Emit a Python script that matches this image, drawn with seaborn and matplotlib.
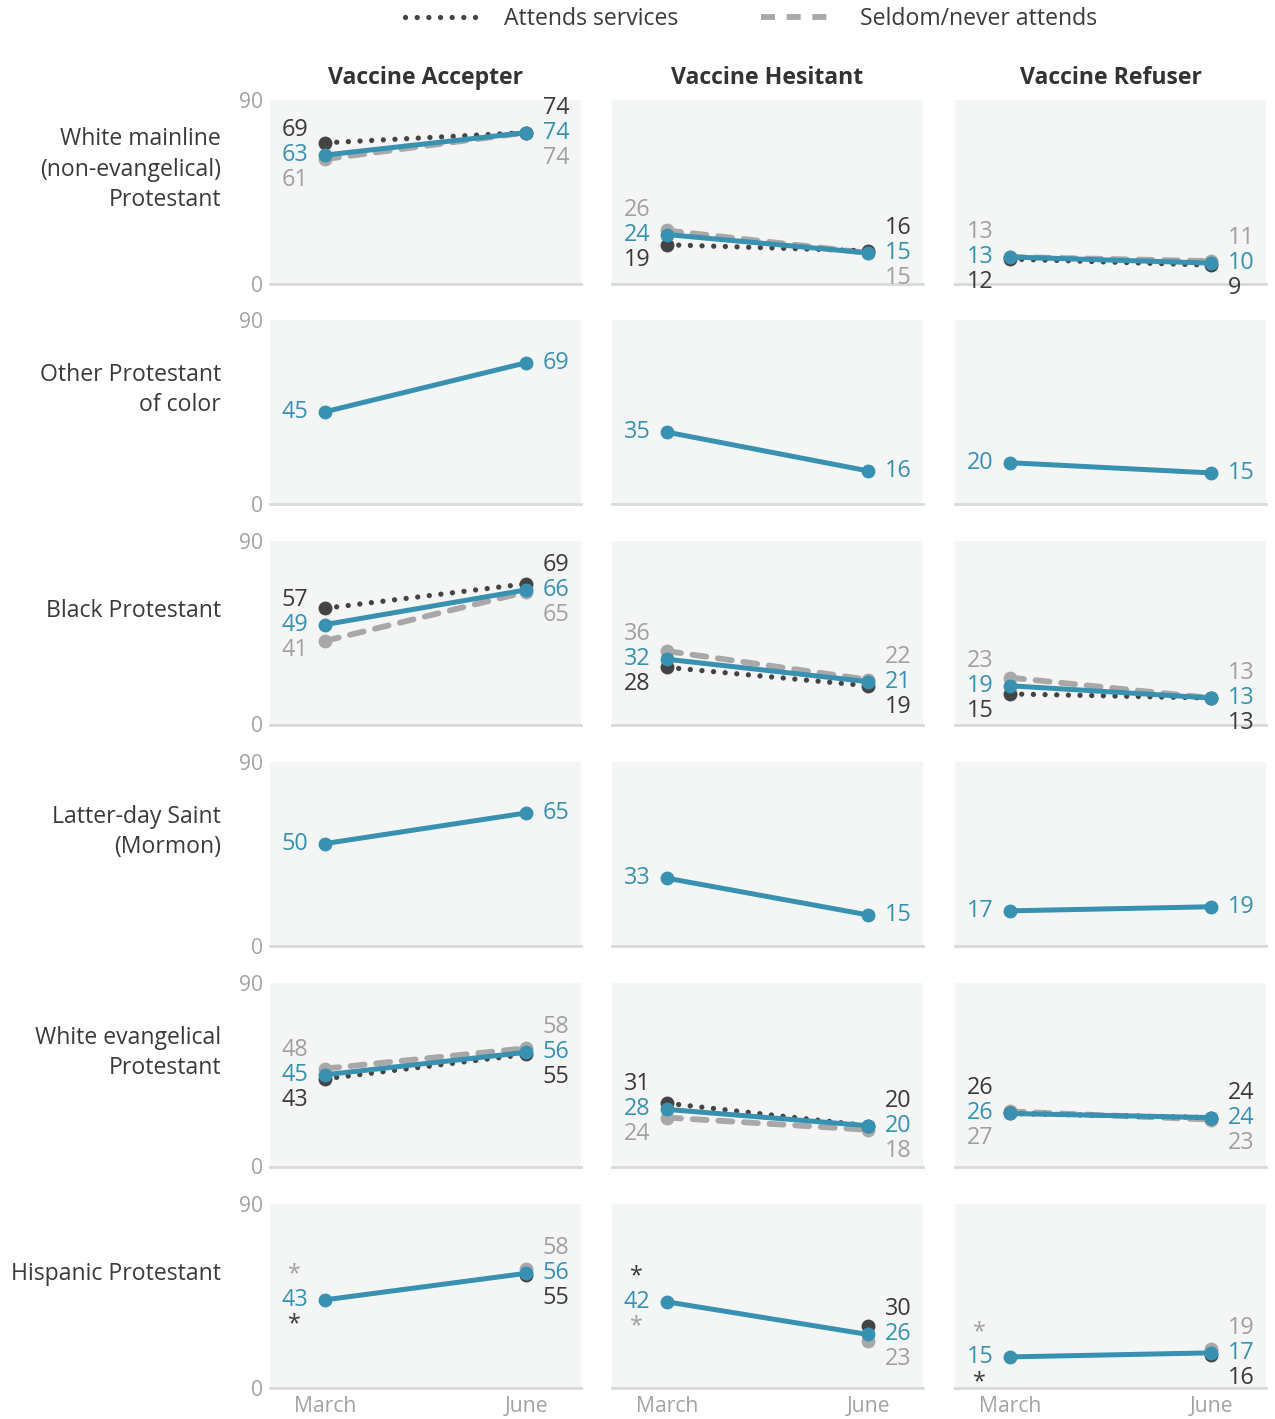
import numpy as np
import pandas as pd
import matplotlib
matplotlib.use("Agg")
import matplotlib.pyplot as plt
import seaborn as sns
from matplotlib.lines import Line2D

# ---------------- data ----------------
groups = ["White mainline\n(non-evangelical)\nProtestant",
          "Other Protestant\nof color",
          "Black Protestant",
          "Latter-day Saint\n(Mormon)",
          "White evangelical\nProtestant",
          "Hispanic Protestant"]
columns = ["Vaccine Accepter", "Vaccine Hesitant", "Vaccine Refuser"]
months = ["March", "June"]

# all members (blue)
all_march = [[63, 24, 13], [45, 35, 20], [49, 32, 19], [50, 33, 17], [45, 28, 26], [43, 42, 15]]
all_june = [[74, 15, 10], [69, 16, 15], [66, 21, 13], [65, 15, 19], [56, 20, 24], [56, 26, 17]]
# attends services (dark); None = not shown, "*" = too few cases
attend_march = [[69, 19, 12], [None, None, None], [57, 28, 15], [None, None, None], [43, 31, 26], ["*", "*", "*"]]
attend_june = [[74, 16, 9], [None, None, None], [69, 19, 13], [None, None, None], [55, 20, 24], [55, 30, 16]]
# seldom/never attends (grey)
seldom_march = [[61, 26, 13], [None, None, None], [41, 36, 23], [None, None, None], [48, 24, 27], ["*", "*", "*"]]
seldom_june = [[74, 15, 11], [None, None, None], [65, 22, 13], [None, None, None], [58, 18, 23], [58, 23, 19]]

# label stacking: True -> "attends" label above the blue label
attend_label_top_march = [[True, False, False], [True] * 3, [True, False, False], [True] * 3,
                          [False, True, True], [False, True, False]]
attend_label_top_june = [[True, True, False], [True] * 3, [True, False, False], [True] * 3,
                         [False, True, True], [False, True, False]]

# ---------------- style ----------------
sns.set_style("white")
plt.rcParams["font.family"] = ["Open Sans", "DejaVu Sans"]

BLUE = "#3891b0"
DARK = "#444444"
GREY = "#a8a8a8"
DARK_TXT = "#3a3a3a"
GREY_TXT = "#a0a0a0"
BG = "#f4f6f5"
AXIS = "#d9d9d9"
TICK = "#a3a3a3"

W, H = 1275, 1419
fig = plt.figure(figsize=(W / 100, H / 100), dpi=100)

col_left = [270, 612, 955]
pw = 311
row_top = [100, 320, 541, 762, 983, 1204]
ph = 183.5
XL = (-0.274, 1.274)

DOT = (0, (0.01, 2.2))
DASH = (0, (2.4, 2.0))
VAL_FS = 16.8
LAB_FS = 16.6


def num(v):
    return np.nan if (v is None or v == "*") else float(v)


def draw(ax, ys, color, ls, lw, z):
    df = pd.DataFrame({"x": [0, 1], "y": [num(v) for v in ys]}).dropna()
    if df.empty:
        return
    sns.lineplot(data=df, x="x", y="y", ax=ax, color=color, linewidth=lw,
                 linestyle=ls, marker="o", markersize=10, markeredgewidth=0,
                 sort=False, errorbar=None, legend=False, zorder=z,
                 dash_capstyle="round", solid_capstyle="round")


def label(ax, xi, anchor, val, color, dy):
    if val is None:
        return
    if val == "*":
        dx = -22 if xi == 0 else 22
        ax.annotate("*", (xi, anchor), xytext=(dx, dy), textcoords="offset points",
                    ha="center", va="center", color=color, fontsize=VAL_FS)
        return
    dx = -12 if xi == 0 else 12
    ax.annotate(f"{val}", (xi, anchor), xytext=(dx, dy), textcoords="offset points",
                ha="right" if xi == 0 else "left", va="center", color=color,
                fontsize=VAL_FS)


for r in range(len(groups)):
    for c in range(len(columns)):
        ax = fig.add_axes([col_left[c] / W, 1 - (row_top[r] + ph) / H, pw / W, ph / H])
        ax.set_facecolor(BG)

        draw(ax, [seldom_march[r][c], seldom_june[r][c]], GREY, DASH, 4.2, 2)
        draw(ax, [attend_march[r][c], attend_june[r][c]], DARK, DOT, 3.8, 3)
        draw(ax, [all_march[r][c], all_june[r][c]], BLUE, "-", 3.6, 4)

        for xi, (b, a, s, top) in enumerate([
                (all_march[r][c], attend_march[r][c], seldom_march[r][c], attend_label_top_march[r][c]),
                (all_june[r][c], attend_june[r][c], seldom_june[r][c], attend_label_top_june[r][c])]):
            label(ax, xi, b, b, BLUE, 0)
            label(ax, xi, b, a, DARK_TXT, 18 if top else -18)
            label(ax, xi, b, s, GREY_TXT, -18 if top else 18)

        ax.set_xlim(*XL)
        ax.set_ylim(0, 90)
        ax.set_xlabel("")
        ax.set_ylabel("")
        for sp in ["top", "left", "right"]:
            ax.spines[sp].set_visible(False)
        ax.spines["bottom"].set_color(AXIS)
        ax.spines["bottom"].set_linewidth(2)
        ax.tick_params(length=0, labelsize=15.2, labelcolor=TICK)
        ax.set_xticks([0, 1])
        if r == len(groups) - 1:
            ax.set_xticklabels(months)
            ax.tick_params(axis="x", pad=6)
        else:
            ax.set_xticklabels([])
        ax.set_yticks([0, 90])
        if c == 0:
            ax.set_yticklabels(["0", "90"])
            ax.tick_params(axis="y", pad=5)
        else:
            ax.set_yticklabels([])
        ax.grid(False)

        if r == 0:
            ax.annotate(columns[c], (0.5, 1.0), xycoords="axes fraction",
                        xytext=(0, 16), textcoords="offset points",
                        ha="center", va="center", fontsize=16.6,
                        fontweight="bold", color="#333333")
        if c == 0:
            yc = 1 - (row_top[r] + ph / 2 - 22) / H
            fig.text(221 / W, yc, groups[r], ha="right", va="center",
                     multialignment="right", fontsize=LAB_FS, color=DARK_TXT,
                     linespacing=1.36)

handles = [Line2D([], [], color=DARK, lw=3.8, linestyle=DOT, dash_capstyle="round"),
           Line2D([], [], color=GREY, lw=4.2, linestyle=DASH)]
fig.legend(handles, ["Attends services", "Seldom/never attends"], loc="center",
           bbox_to_anchor=(751 / W, 1 - 19 / H), ncol=2, frameon=False,
           fontsize=16.6, handlelength=3.2, handletextpad=1.1, columnspacing=3.6,
           labelcolor=DARK_TXT)

fig.savefig("out.png", dpi=100, facecolor="white")
